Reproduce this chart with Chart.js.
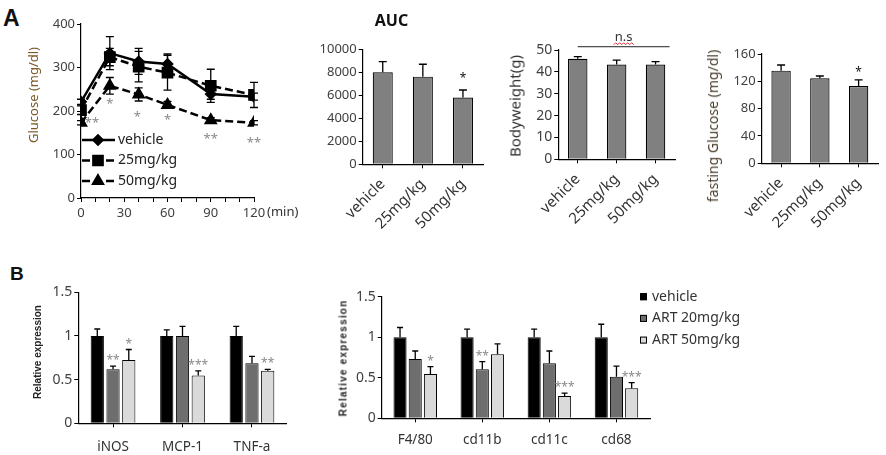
<!DOCTYPE html>
<html>
<head>
<meta charset="utf-8">
<script src="https://cdn.jsdelivr.net/npm/chart.js@4.4.0/dist/chart.umd.min.js"></script>
<style>
    body { margin: 0; width: 886px; height: 455px; background: #fff; position: relative; overflow: hidden; font-family: 'Noto Sans', sans-serif; color: #333; }
    canvas { position: absolute; }
    .lbl { position: absolute; white-space: nowrap; line-height: 1; }
    .rot { transform: translate(-50%, -50%) rotate(-90deg); }
</style>
</head>
<body>
<div class="lbl" style="left:3px;top:5px;font:bold 23px 'Liberation Sans';color:#111">A</div>
<div class="lbl" style="left:10px;top:263px;font:bold 19px 'Liberation Sans';color:#111">B</div>

<canvas id="glucose" style="left:0;top:0" width="290" height="230"></canvas>
<canvas id="auc" style="left:300px;top:0" width="206" height="230"></canvas>
<canvas id="bw" style="left:500px;top:0" width="190" height="230"></canvas>
<canvas id="fasting" style="left:700px;top:0" width="186" height="230"></canvas>
<canvas id="expr1" style="left:0;top:250px" width="300" height="205"></canvas>
<canvas id="expr2" style="left:320px;top:250px" width="566" height="205"></canvas>

<div class="lbl rot" style="left:33px;top:95px;font-size:13px;color:#7a5a2a">Glucose (mg/dl)</div>
<div class="lbl" style="left:267px;top:205px;font-size:13px;color:#333">(min)</div>
<div class="lbl rot" style="left:515px;top:106px;font-size:15px;color:#333">Bodyweight(g)</div>
<div class="lbl rot" style="left:713px;top:126px;font-size:14px;color:#4a3f2e">fasting Glucose (mg/dl)</div>
<div class="lbl rot" style="left:37px;top:352px;font:bold 10px 'Liberation Sans';color:#222">Relative expression</div>
<div class="lbl rot" style="left:343px;top:358px;font:bold 10px 'Liberation Sans';letter-spacing:1.2px;color:#222">Relative expression</div>

<script>
// --- A: glucose tolerance test
var times = [0, 20, 40, 60, 90, 120]
var glucoseVehicle = [221, 333, 314, 308, 239, 233]
var glucose25 = [202, 324, 302, 288, 258, 237]
var glucose50 = [173, 258, 238, 214, 179, 173]
var errVehicle = [6, 38, 30, 23, 12, 8]
var err25 = [10, 20, 35, 40, 38, 29]
var err50 = [5, 19, 15, 8, 6, 5]
var starTimes = [7.6, 20, 39, 60, 90, 120]
var starValues = [181, 225, 195, 187, 145, 135]
var starTexts = ['**', '*', '*', '*', '**', '**']

var groups = ['vehicle', '25mg/kg', '50mg/kg']
var aucValues = [8000, 7620, 5800]
var aucErr = [930, 1080, 660]
var aucStars = ['', '', '*']
var bwValues = [46.0, 43.4, 43.4]
var bwErr = [1.0, 2.0, 1.3]
var fastValues = [135.6, 124.4, 113.2]
var fastErr = [8.3, 3.4, 8.8]
var fastStars = ['', '', '*']

// --- B: relative expression
var genes1 = ['iNOS', 'MCP-1', 'TNF-a']
var genes2 = ['F4/80', 'cd11b', 'cd11c', 'cd68']
var treatments = ['vehicle', 'ART 20mg/kg', 'ART 50mg/kg']
var expr1Vehicle = [1.0, 1.0, 1.0]
var expr1Art20 = [0.62, 1.0, 0.687]
var expr1Art50 = [0.725, 0.546, 0.603]
var expr1ErrVehicle = [0.08, 0.07, 0.11]
var expr1ErrArt20 = [0.035, 0.11, 0.08]
var expr1ErrArt50 = [0.12, 0.055, 0.015]
var expr1StarsArt20 = ['**', '', '']
var expr1StarsArt50 = ['*', '***', '**']
var expr2Vehicle = [1.0, 1.0, 1.0, 1.0]
var expr2Art20 = [0.73, 0.605, 0.68, 0.514]
var expr2Art50 = [0.547, 0.79, 0.275, 0.37]
var expr2ErrVehicle = [0.12, 0.10, 0.10, 0.16]
var expr2ErrArt20 = [0.10, 0.095, 0.15, 0.13]
var expr2ErrArt50 = [0.09, 0.127, 0.035, 0.07]
var expr2StarsArt20 = ['', '**', '', '']
var expr2StarsArt50 = ['*', '', '***', '***']

var barColors = ['#000000', '#6e6e6e', '#dadada']

Chart.defaults.font.family = "'Noto Sans', sans-serif"
Chart.defaults.color = '#404040'
Chart.defaults.animation = false

function valueOf(v) {
    return (typeof v === 'object') ? v.y : v
}

var errorBars = {
    id: 'errorBars',
    afterDatasetsDraw: function (chart, args, opts) {
        var ctx = chart.ctx
        var yScale = chart.scales.y
        chart.data.datasets.forEach(function (ds, i) {
            if (!ds.errors) return
            var meta = chart.getDatasetMeta(i)
            meta.data.forEach(function (el, j) {
                var e = ds.errors[j]
                if (!e) return
                var v = valueOf(ds.data[j])
                var top = yScale.getPixelForValue(v + e)
                var bottom = opts.both ? yScale.getPixelForValue(v - e) : el.y
                ctx.save()
                ctx.strokeStyle = '#000'
                ctx.lineWidth = opts.lineWidth || 1.5
                ctx.beginPath()
                ctx.moveTo(el.x, bottom)
                ctx.lineTo(el.x, top)
                ctx.moveTo(el.x - opts.cap, top)
                ctx.lineTo(el.x + opts.cap, top)
                if (opts.both) {
                    ctx.moveTo(el.x - opts.cap, bottom)
                    ctx.lineTo(el.x + opts.cap, bottom)
                }
                ctx.stroke()
                ctx.restore()
            })
        })
    }
}

function drawStar(ctx, text, x, y, opts) {
    ctx.save()
    ctx.font = (opts.bold ? 'bold ' : '') + opts.size + "px 'Noto Sans'"
    ctx.fillStyle = opts.color || '#888'
    ctx.textAlign = 'center'
    ctx.textBaseline = 'alphabetic'
    ctx.fillText(text, x, y + 0.59 * opts.size)
    ctx.restore()
}

var stars = {
    id: 'stars',
    afterDatasetsDraw: function (chart, args, opts) {
        var ctx = chart.ctx
        if (opts.times) {
            opts.times.forEach(function (t, k) {
                var x = chart.scales.x.getPixelForValue(t)
                var y = chart.scales.y.getPixelForValue(opts.values[k])
                drawStar(ctx, opts.texts[k], x, y, opts)
            })
        }
        chart.data.datasets.forEach(function (ds, i) {
            if (!ds.stars) return
            var meta = chart.getDatasetMeta(i)
            meta.data.forEach(function (el, j) {
                if (!ds.stars[j]) return
                var top = chart.scales.y.getPixelForValue(ds.data[j] + (ds.errors ? ds.errors[j] : 0))
                drawStar(ctx, ds.stars[j], el.x, top - opts.gap, opts)
            })
        })
    }
}

var lineLegend = {
    id: 'lineLegend',
    afterDraw: function (chart, args, opts) {
        var ctx = chart.ctx
        chart.data.datasets.forEach(function (ds, i) {
            var y = opts.y + i * opts.row
            ctx.save()
            ctx.strokeStyle = '#000'
            ctx.lineWidth = ds.borderWidth
            ctx.setLineDash(ds.borderDash || [])
            ctx.beginPath()
            ctx.moveTo(opts.x, y)
            ctx.lineTo(opts.x + opts.len, y)
            ctx.stroke()
            ctx.setLineDash([])
            ctx.fillStyle = '#000'
            Chart.helpers.drawPoint(ctx, { pointStyle: ds.pointStyle, radius: ds.pointRadius, rotation: 0, borderWidth: 1 }, opts.x + opts.mark, y)
            ctx.font = "14px 'Noto Sans'"
            ctx.fillStyle = '#222'
            ctx.textBaseline = 'middle'
            ctx.fillText(ds.label, opts.x + opts.len + 3, y)
            ctx.restore()
        })
    }
}

var boxLegend = {
    id: 'boxLegend',
    afterDraw: function (chart, args, opts) {
        var ctx = chart.ctx
        chart.data.datasets.forEach(function (ds, i) {
            var y = opts.y + i * opts.row
            ctx.save()
            ctx.fillStyle = ds.backgroundColor
            ctx.fillRect(opts.x, y - 3.5, 7, 7)
            ctx.strokeStyle = '#000'
            ctx.lineWidth = 1
            ctx.strokeRect(opts.x + 0.5, y - 3, 6, 6)
            ctx.font = "14px 'Noto Sans'"
            ctx.fillStyle = '#333'
            ctx.textBaseline = 'middle'
            ctx.fillText(ds.label, opts.x + 12, y)
            ctx.restore()
        })
    }
}

var nsBracket = {
    id: 'nsBracket',
    afterDraw: function (chart) {
        var ctx = chart.ctx
        var x0 = chart.scales.x.getPixelForValue(0)
        var x1 = chart.scales.x.getPixelForValue(2) + 14
        var y = chart.scales.y.getPixelForValue(51.5)
        var xm = (x0 + x1) / 2
        ctx.save()
        ctx.strokeStyle = '#222'
        ctx.lineWidth = 1
        ctx.beginPath()
        ctx.moveTo(x0, y)
        ctx.lineTo(x1, y)
        ctx.stroke()
        ctx.font = "13px 'Noto Sans'"
        ctx.fillStyle = '#333'
        ctx.textAlign = 'center'
        ctx.textBaseline = 'alphabetic'
        ctx.fillText('n.s', xm, y - 6)
        // red spell-check squiggle under the text
        ctx.strokeStyle = '#e03030'
        ctx.beginPath()
        for (var k = 0; k <= 10; k++) {
            var xx = xm - 10 + k * 2
            var yy = y - 3 + (k % 2 ? -1 : 1)
            if (k === 0) ctx.moveTo(xx, yy); else ctx.lineTo(xx, yy)
        }
        ctx.stroke()
        ctx.restore()
    }
}

function fixSize(w) {
    return function (scale) { scale.width = w }
}
function fixHeight(h) {
    return function (scale) { scale.height = h }
}

function axisY(min, max, step, width, fontSize) {
    return {
        min: min, max: max,
        afterFit: fixSize(width),
        ticks: { stepSize: step, padding: 2, font: { size: fontSize }, callback: function (v) { return String(v) } },
        grid: { drawOnChartArea: false, tickLength: 4, color: '#000' },
        border: { color: '#000', width: 1.2 }
    }
}

function axisRotX(height) {
    return {
        afterFit: fixHeight(height),
        ticks: { minRotation: 45, maxRotation: 45, autoSkip: false, padding: 7, font: { size: 15 }, color: '#333' },
        grid: { offset: false, drawOnChartArea: false, tickLength: 4, color: '#000' },
        border: { color: '#000', width: 1.2 }
    }
}

function points(values) {
    return times.map(function (t, i) { return { x: t, y: values[i] } })
}

// glucose curve
new Chart(document.getElementById('glucose'), {
    type: 'line',
    data: {
        datasets: [
            { label: 'vehicle', data: points(glucoseVehicle), errors: errVehicle, borderColor: '#000', backgroundColor: '#000', borderWidth: 2.5, pointStyle: 'rectRot', pointRadius: 4.5 },
            { label: '25mg/kg', data: points(glucose25), errors: err25, borderColor: '#000', backgroundColor: '#000', borderWidth: 2.5, borderDash: [8, 4], pointStyle: 'rect', pointRadius: 6.5 },
            { label: '50mg/kg', data: points(glucose50), errors: err50, borderColor: '#000', backgroundColor: '#000', borderWidth: 2.5, borderDash: [8, 4], pointStyle: 'triangle', pointRadius: 5.5 }
        ]
    },
    options: {
        responsive: false,
        layout: { padding: { left: 0, top: 24, right: 36, bottom: 0 } },
        scales: {
            x: {
                type: 'linear', min: 0, max: 120,
                afterFit: fixHeight(32),
                ticks: { stepSize: 10, autoSkip: false, maxRotation: 0, padding: 3, font: { size: 13 }, callback: function (v) { return v % 30 === 0 ? String(v) : '' } },
                grid: { drawOnChartArea: false, tickLength: 4, color: '#000' },
                border: { color: '#000', width: 1.2 }
            },
            y: axisY(0, 400, 100, 81, 13)
        },
        plugins: {
            legend: { display: false },
            tooltip: { enabled: false },
            errorBars: { cap: 4, both: true, lineWidth: 1.3 },
            stars: { times: starTimes, values: starValues, texts: starTexts, size: 13, color: '#8a8a8a' },
            lineLegend: { x: 82, y: 140, row: 20.5, len: 33, mark: 16 }
        }
    },
    plugins: [errorBars, stars, lineLegend]
})

function groupBarChart(id, values, errors, starList, opts) {
    new Chart(document.getElementById(id), {
        type: 'bar',
        data: {
            labels: groups,
            datasets: [{ data: values, errors: errors, stars: starList, backgroundColor: '#808080', borderColor: '#000', borderWidth: 1.2, barPercentage: 1, categoryPercentage: 0.5 }]
        },
        options: {
            responsive: false,
            layout: { padding: opts.padding },
            scales: {
                x: axisRotX(opts.xHeight),
                y: axisY(opts.min, opts.max, opts.step, opts.yWidth, opts.font)
            },
            plugins: {
                legend: { display: false },
                tooltip: { enabled: false },
                title: opts.title || { display: false },
                errorBars: { cap: 4, both: false, lineWidth: 1.3 },
                stars: { gap: opts.starGap || 10, size: 12, color: '#111' }
            }
        },
        plugins: [errorBars, stars].concat(opts.extra || [])
    })
}

groupBarChart('auc', aucValues, aucErr, aucStars, {
    padding: { left: 0, top: 0, right: 23, bottom: 0 },
    xHeight: 65.7, yWidth: 62.7, min: 0, max: 10000, step: 2000, font: 13, starGap: 15,
    title: { display: true, text: 'AUC', color: '#111', font: { size: 16, weight: 'bold' }, padding: { top: 11.4, bottom: 18.7 } }
})
groupBarChart('bw', bwValues, bwErr, null, {
    padding: { left: 0, top: 50, right: 15, bottom: 0 },
    xHeight: 70.7, yWidth: 58.3, min: 0, max: 50, step: 10, font: 14,
    extra: [nsBracket]
})
groupBarChart('fasting', fastValues, fastErr, fastStars, {
    padding: { left: 0, top: 54, right: 8, bottom: 0 },
    xHeight: 66.7, yWidth: 61.7, min: 0, max: 160, step: 40, font: 13, starGap: 11
})

function exprChart(id, labels, series, errs, starSets, opts) {
    var datasets = treatments.map(function (t, i) {
        return {
            label: t, data: series[i], errors: errs[i], stars: starSets[i],
            backgroundColor: barColors[i], borderColor: '#000', borderWidth: 1,
            barPercentage: opts.barPct, categoryPercentage: opts.catPct
        }
    })
    new Chart(document.getElementById(id), {
        type: 'bar',
        data: { labels: labels, datasets: datasets },
        options: {
            responsive: false,
            layout: { padding: opts.padding },
            scales: {
                x: {
                    afterFit: fixHeight(opts.xHeight),
                    ticks: { autoSkip: false, maxRotation: 0, padding: opts.labelPad, font: { size: 13.5 }, color: '#333' },
                    grid: { offset: false, drawOnChartArea: false, tickLength: 4, color: '#000' },
                    border: { color: '#000', width: 1.2 }
                },
                y: axisY(0, 1.5, 0.5, opts.yWidth, 14)
            },
            plugins: {
                legend: { display: false },
                tooltip: { enabled: false },
                errorBars: { cap: 3, both: false, lineWidth: 1.3 },
                stars: { gap: 9, size: 12, color: '#8a8a8a' },
                boxLegend: opts.legend || {}
            }
        },
        plugins: [errorBars, stars].concat(opts.legend ? [boxLegend] : [])
    })
}

exprChart('expr1', genes1,
    [expr1Vehicle, expr1Art20, expr1Art50],
    [expr1ErrVehicle, expr1ErrArt20, expr1ErrArt50],
    [null, expr1StarsArt20, expr1StarsArt50],
    { padding: { left: 0, top: 42.3, right: 13.3, bottom: 0 }, xHeight: 31.7, yWidth: 78.3, barPct: 0.84, catPct: 0.68, labelPad: 12 })

exprChart('expr2', genes2,
    [expr2Vehicle, expr2Art20, expr2Art50],
    [expr2ErrVehicle, expr2ErrArt20, expr2ErrArt50],
    [null, expr2StarsArt20, expr2StarsArt50],
    { padding: { left: 0, top: 46.7, right: 236, bottom: 0 }, xHeight: 36.7, yWidth: 61.7, barPct: 0.86, catPct: 0.68, labelPad: 10,
      legend: { x: 320, y: 46.7, row: 21.7 } })
</script>
</body>
</html>
